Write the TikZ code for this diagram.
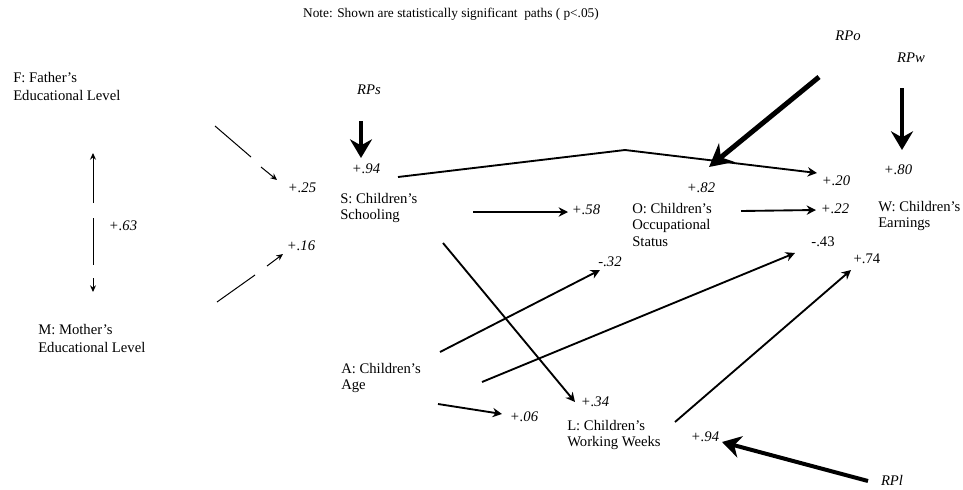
\documentclass[tikz,border=0pt]{standalone}
\usepackage{fontspec}
\setmainfont{Liberation Serif}
\usetikzlibrary{arrows.meta}

\begin{document}
\begin{tikzpicture}[x=0.75pt,y=-0.75pt,
  var/.style={anchor=north west, align=left, inner sep=0pt, font=\fontsize{11}{12.4}\selectfont},
  widevar/.style={var, font=\fontsize{11}{13.8}\selectfont},
  coef/.style={inner sep=0pt, font=\fontsize{11}{12.6}\selectfont\itshape},
  coefup/.style={inner sep=0pt, font=\fontsize{11}{12.6}\selectfont},
  rp/.style={inner sep=0pt, font=\fontsize{11}{12.6}\selectfont\itshape},
  thinline/.style={line width=0.75pt},
  thinarrow/.style={line width=0.75pt, -{Stealth[length=5pt,width=4.5pt]}},
  patharrow/.style={line width=1.4pt, -{Stealth[length=7pt,width=7pt]}},
  residarrow/.style={line width=3pt, -{Stealth[length=14pt,width=16.5pt]}},
]
\useasboundingbox (0,0) rectangle (963,489);

% heading note
\node[inner sep=0pt, font=\fontsize{10}{12}\selectfont] (note) at (451,14)
  {Note: Shown are statistically significant\ \ paths ( p<.05)};

% variables
\node[widevar] (F) at (13,72) {F: Father's\\Educational Level};
\node[widevar] (M) at (38,324) {M: Mother's\\Educational Level};
\node[var] (S) at (340,193) {S: Children's\\Schooling};
\node[var] (O) at (632,203) {O: Children's\\Occupational\\Status};
\node[var] (W) at (878,201) {W: Children's\\Earnings};
\node[var] (A) at (341,363) {A: Children's\\Age};
\node[var] (L) at (567,420) {L: Children's\\Working Weeks};

% residual labels
\node[rp] (RPs) at (369,90) {RPs};
\node[rp] (RPo) at (848,36) {RPo};
\node[rp] (RPw) at (911,58) {RPw};
\node[rp] (RPl) at (892,480) {RPl};

% path coefficients
\node[coef] (c63) at (123,226) {+.63};
\node[coef] (c25) at (302,188) {+.25};
\node[coef] (c16) at (301,246) {+.16};
\node[coef] (c94s) at (366,169) {+.94};
\node[coef] (c20) at (836,181) {+.20};
\node[coef] (c58) at (586,210) {+.58};
\node[coef] (c82) at (701,188) {+.82};
\node[coef] (c80) at (898,170) {+.80};
\node[coef] (c22) at (835,209) {+.22};
\node[coefup] (c43) at (823,242) {-.43};
\node[coefup] (c74) at (867,259) {+.74};
\node[coef] (c32) at (610,262) {-.32};
\node[coef] (c06) at (524,417) {+.06};
\node[coef] (c34) at (595,402) {+.34};
\node[coef] (c94l) at (705,437) {+.94};

% connector end points
\coordinate (fm1) at (93,203);  \coordinate (fm2) at (93,153);
\coordinate (fm3) at (93,218);  \coordinate (fm4) at (93,265);
\coordinate (fm5) at (93,278);  \coordinate (fm6) at (93,292);
\coordinate (f1) at (215,126);  \coordinate (f2) at (251,157);
\coordinate (f3) at (261,167);  \coordinate (f4) at (277,180);
\coordinate (m1) at (217,302);  \coordinate (m2) at (255,275);
\coordinate (m3) at (267,266);  \coordinate (m4) at (283,254);
\coordinate (rps1) at (361,121); \coordinate (rps2) at (361,158);
\coordinate (rpo1) at (819,77);  \coordinate (rpo2) at (709,167);
\coordinate (rpw1) at (902,88);  \coordinate (rpw2) at (902,150);
\coordinate (rpl1) at (868,481); \coordinate (rpl2) at (722,442);
\coordinate (sw1) at (398,177); \coordinate (sw2) at (625,150); \coordinate (sw3) at (817,173);
\coordinate (so1) at (473,212); \coordinate (so2) at (568,212);
\coordinate (ow1) at (741,211); \coordinate (ow2) at (816,210);
\coordinate (sl1) at (443,243); \coordinate (sl2) at (575,402);
\coordinate (ao1) at (440,352); \coordinate (ao2) at (600,270);
\coordinate (aw1) at (482,382); \coordinate (aw2) at (795,253);
\coordinate (al1) at (438,404); \coordinate (al2) at (502,414);
\coordinate (lw1) at (675,422); \coordinate (lw2) at (851,270);

% correlation between parents' education
\draw[thinarrow] (fm1) -- (fm2);
\draw[thinline] (fm3) -- (fm4);
\draw[thinarrow] (fm5) -- (fm6);

% parents' education to schooling
\draw[thinline] (f1) -- (f2);
\draw[thinarrow] (f3) -- (f4);
\draw[thinline] (m1) -- (m2);
\draw[thinarrow] (m3) -- (m4);

% residual paths
\draw[residarrow] (rps1) -- (rps2);
\draw[residarrow, line width=3.75pt, -{Stealth[length=17pt,width=18pt]}] (rpo1) -- (rpo2);
\draw[residarrow] (rpw1) -- (rpw2);
\draw[residarrow] (rpl1) -- (rpl2);

% structural paths
\draw[patharrow] (sw1) -- (sw2) -- (sw3);
\draw[patharrow] (so1) -- (so2);
\draw[patharrow] (ow1) -- (ow2);
\draw[patharrow] (sl1) -- (sl2);
\draw[patharrow] (ao1) -- (ao2);
\draw[patharrow] (aw1) -- (aw2);
\draw[patharrow] (al1) -- (al2);
\draw[patharrow] (lw1) -- (lw2);
\end{tikzpicture}
\end{document}
